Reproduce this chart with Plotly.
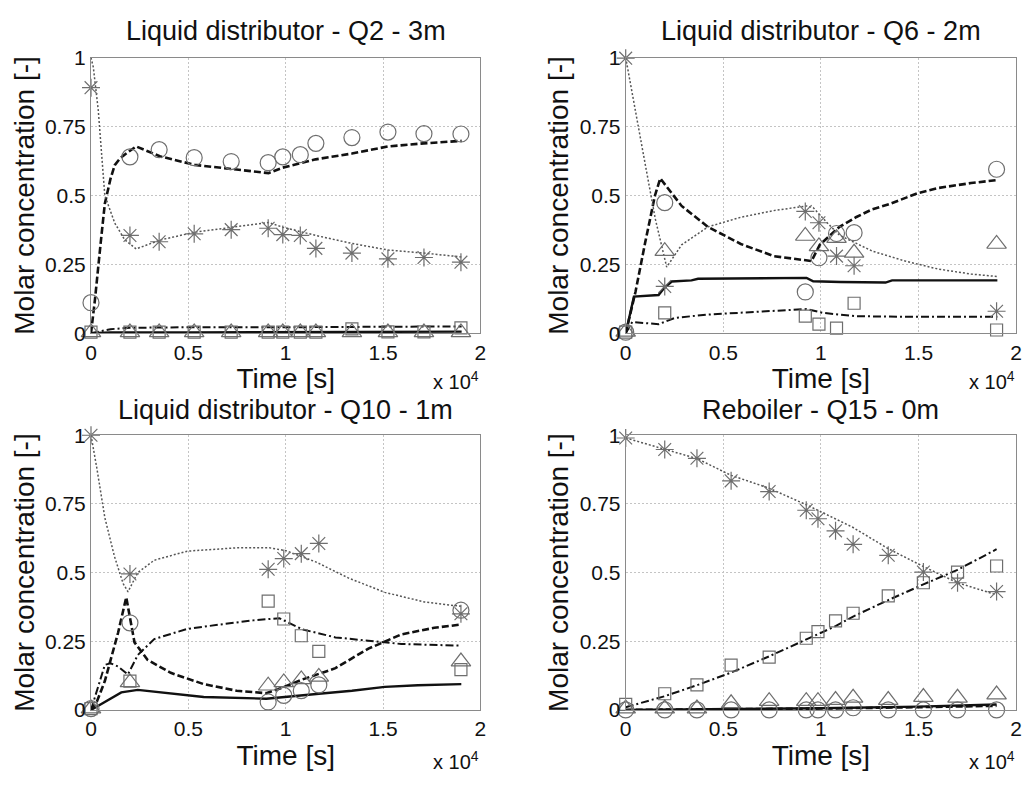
import plotly.graph_objects as go

# ---------------- data ----------------
# Panel Q2 - 3m (experimental points)
t_exp_q2 = [0, 2000, 3500, 5300, 7200, 9100, 9850, 10750, 11550, 13400, 15250, 17100, 19000]
q2_circle = [0.111, 0.64, 0.666, 0.637, 0.623, 0.619, 0.64, 0.648, 0.689, 0.71, 0.73, 0.724, 0.723]
q2_star = [0.891, 0.355, 0.332, 0.361, 0.376, 0.381, 0.358, 0.355, 0.308, 0.291, 0.27, 0.275, 0.258]
q2_tri = [0.003, 0.003, 0.003, 0.003, 0.003, 0.003, 0.003, 0.003, 0.003, 0.003, 0.003, 0.003, 0.003]
q2_square = [0.004, 0.004, 0.004, 0.004, 0.004, 0.004, 0.004, 0.004, 0.004, 0.016, 0.005, 0.005, 0.02]
# Panel Q2 - model curves
q2_dash_t = [0, 200, 500, 710, 1000, 1220, 1500, 1726, 2318, 3536, 5330, 7242, 9120, 9848, 11540, 13401, 15262, 17090, 19036]
q2_dash_v = [0, 0.12, 0.33, 0.47, 0.56, 0.61, 0.635, 0.648, 0.678, 0.642, 0.611, 0.596, 0.581, 0.601, 0.631, 0.652, 0.678, 0.689, 0.698]
q2_dot_t = [0, 120, 372, 710, 1220, 1726, 2318, 3536, 5330, 7242, 9120, 9848, 11540, 13401, 15262, 17090, 19036]
q2_dot_v = [1.0, 0.965, 0.81, 0.5, 0.4, 0.34, 0.306, 0.338, 0.367, 0.385, 0.402, 0.385, 0.355, 0.326, 0.302, 0.291, 0.277]
q2_solid_t = [0, 1000, 5000, 10000, 15000, 19036]
q2_solid_v = [0, 0.003, 0.003, 0.004, 0.005, 0.006]
q2_dashdot_t = [0, 1000, 2000, 5000, 10000, 15000, 19036]
q2_dashdot_v = [0, 0.015, 0.02, 0.022, 0.022, 0.024, 0.025]

# Panel Q6 - 2m
t_exp_q6 = [0, 2000, 9200, 9900, 10800, 11700, 19000]
q6_circle = [0.004, 0.474, 0.15, 0.274, 0.362, 0.365, 0.595]
q6_star = [0.998, 0.17, 0.442, 0.401, 0.28, 0.245, 0.08]
q6_tri = [0.005, 0.298, 0.353, 0.315, 0.345, 0.292, 0.324]
q6_square = [0.004, 0.074, 0.062, 0.033, 0.019, 0.109, 0.012]
q6_dash_t = [0, 500, 1000, 1500, 1770, 2864, 4212, 5054, 5897, 7582, 9267, 9520, 9941, 10952, 11794, 12637, 13479, 14995, 16006, 17691, 19040]
q6_dash_v = [0, 0.15, 0.33, 0.5, 0.562, 0.462, 0.386, 0.356, 0.324, 0.28, 0.265, 0.262, 0.321, 0.386, 0.421, 0.45, 0.468, 0.509, 0.527, 0.545, 0.556]
q6_dot_t = [0, 400, 842, 1516, 2100, 2864, 4212, 5897, 7582, 9267, 9604, 10278, 10952, 11794, 12637, 14322, 16006, 17691, 19040]
q6_dot_v = [1.0, 0.85, 0.674, 0.415, 0.24, 0.321, 0.386, 0.421, 0.445, 0.462, 0.456, 0.404, 0.356, 0.327, 0.298, 0.262, 0.233, 0.215, 0.206]
q6_solid_t = [0, 421, 1685, 1938, 2359, 3370, 3706, 9267, 9604, 11000, 13310, 13647, 19040]
q6_solid_v = [0, 0.133, 0.139, 0.162, 0.188, 0.192, 0.198, 0.201, 0.189, 0.186, 0.184, 0.192, 0.192]
q6_dashdot_t = [0, 337, 1685, 2527, 4212, 5897, 9267, 10109, 11794, 14322, 19040]
q6_dashdot_v = [0.0, 0.041, 0.033, 0.056, 0.068, 0.074, 0.088, 0.074, 0.062, 0.06, 0.06]

# Panel Q10 - 1m
t_exp_q10 = [0, 2000, 9100, 9900, 10800, 11700, 19000]
q10_circle = [0.005, 0.317, 0.029, 0.053, 0.07, 0.091, 0.363]
q10_star = [1.0, 0.495, 0.512, 0.551, 0.569, 0.606, 0.35]
q10_tri = [0.005, 0.1, 0.088, 0.1, 0.111, 0.12, 0.176]
q10_square = [0.005, 0.105, 0.396, 0.331, 0.27, 0.213, 0.147]
q10_dash_t = [0, 300, 711, 1387, 1810, 2234, 2910, 4095, 5787, 7479, 9002, 9848, 10863, 12555, 13401, 14247, 15939, 17631, 19019]
q10_dash_v = [0, 0.03, 0.105, 0.28, 0.41, 0.246, 0.182, 0.135, 0.094, 0.07, 0.061, 0.082, 0.111, 0.152, 0.188, 0.223, 0.275, 0.299, 0.311]
q10_dot_t = [0, 300, 711, 1200, 1650, 1900, 2403, 3249, 4940, 7479, 9170, 10000, 11540, 13232, 15093, 17124, 19019]
q10_dot_v = [1.0, 0.88, 0.7, 0.56, 0.46, 0.43, 0.5, 0.545, 0.578, 0.59, 0.59, 0.58, 0.539, 0.48, 0.428, 0.393, 0.377]
q10_solid_t = [0, 711, 1557, 2403, 4095, 5787, 9002, 10017, 11709, 13401, 15093, 16785, 19019]
q10_solid_v = [0, 0.029, 0.064, 0.073, 0.059, 0.047, 0.041, 0.047, 0.059, 0.07, 0.084, 0.09, 0.094]
q10_dashdot_t = [0, 300, 711, 1000, 1387, 1895, 2403, 3249, 4940, 6632, 8323, 9678, 10863, 12555, 14247, 15939, 19019]
q10_dashdot_v = [0, 0.07, 0.164, 0.17, 0.158, 0.129, 0.2, 0.258, 0.295, 0.311, 0.326, 0.334, 0.293, 0.264, 0.252, 0.24, 0.234]

# Panel Q15 - 0m (reboiler)
t_exp_q15 = [0, 2000, 3650, 5400, 7350, 9250, 9850, 10750, 11650, 13450, 15250, 17000, 19000]
q15_circle = [0.0, 0.0, 0.0, 0.0, 0.0, 0.0, 0.0, 0.0, 0.008, 0.0, 0.0, 0.0, 0.0]
q15_star = [0.99, 0.948, 0.916, 0.834, 0.795, 0.727, 0.696, 0.652, 0.603, 0.563, 0.502, 0.463, 0.431]
q15_tri = [0.005, 0.005, 0.005, 0.024, 0.032, 0.032, 0.032, 0.036, 0.044, 0.036, 0.047, 0.044, 0.056]
q15_square = [0.02, 0.059, 0.091, 0.163, 0.192, 0.261, 0.285, 0.324, 0.352, 0.415, 0.463, 0.502, 0.524]
q15_dot_t = [0, 2000, 3650, 5400, 7350, 9250, 10750, 11650, 13450, 15250, 17000, 19000]
q15_dot_v = [0.99, 0.95, 0.915, 0.854, 0.807, 0.747, 0.694, 0.664, 0.587, 0.522, 0.463, 0.419]
q15_dashdot_t = [0, 2000, 3650, 5400, 7350, 9250, 10750, 11650, 13450, 15250, 17000, 19000]
q15_dashdot_v = [0.01, 0.05, 0.09, 0.136, 0.195, 0.255, 0.305, 0.34, 0.4, 0.457, 0.51, 0.585]
q15_solid_t = [0, 5000, 10000, 15000, 19000]
q15_solid_v = [0, 0.003, 0.006, 0.012, 0.02]
q15_dash_t = [0, 5000, 10000, 15000, 19000]
q15_dash_v = [0, 0.002, 0.005, 0.01, 0.015]

titles = ["Liquid distributor - Q2 - 3m", "Liquid distributor - Q6 - 2m",
          "Liquid distributor - Q10 - 1m", "Reboiler - Q15 - 0m"]
x_tickvals = [0, 5000, 10000, 15000, 20000]
x_ticktext = ["0", "0.5", "1", "1.5", "2"]
y_tickvals = [0, 0.25, 0.5, 0.75, 1]
y_ticktext = ["0", "0.25", "0.5", "0.75", "1"]

panels = [
    dict(t=t_exp_q2, circ=q2_circle, star=q2_star, tri=q2_tri, sq=q2_square,
         lines=[(q2_dash_t, q2_dash_v, "dash"), (q2_dot_t, q2_dot_v, "dot"),
                (q2_solid_t, q2_solid_v, "solid"), (q2_dashdot_t, q2_dashdot_v, "dashdot")]),
    dict(t=t_exp_q6, circ=q6_circle, star=q6_star, tri=q6_tri, sq=q6_square,
         lines=[(q6_dash_t, q6_dash_v, "dash"), (q6_dot_t, q6_dot_v, "dot"),
                (q6_solid_t, q6_solid_v, "solid"), (q6_dashdot_t, q6_dashdot_v, "dashdot")]),
    dict(t=t_exp_q10, circ=q10_circle, star=q10_star, tri=q10_tri, sq=q10_square,
         lines=[(q10_dash_t, q10_dash_v, "dash"), (q10_dot_t, q10_dot_v, "dot"),
                (q10_solid_t, q10_solid_v, "solid"), (q10_dashdot_t, q10_dashdot_v, "dashdot")]),
    dict(t=t_exp_q15, circ=q15_circle, star=q15_star, tri=q15_tri, sq=q15_square,
         lines=[(q15_dash_t, q15_dash_v, "dash"), (q15_dot_t, q15_dot_v, "dot"),
                (q15_solid_t, q15_solid_v, "solid"), (q15_dashdot_t, q15_dashdot_v, "dashdot")]),
]

# ---------------- layout geometry ----------------
W, H = 1031, 785
def px_x(p):
    return p / W
def px_y(p):
    return 1 - p / H

x_domains = [(px_x(86), px_x(480)), (px_x(627), px_x(1022))]
y_domains = [(px_y(331), px_y(47)), (px_y(719), px_y(436))]
title_y_px = [20, 410]
exp_y_px = [380, 771]

FONT = "Liberation Sans, Arial, sans-serif"
MCOL = "#6e6e6e"

fig = go.Figure()
line_styles = {"dash": (2.6, "#111111", "7px,3px"),
               "dot": (1.5, "#555555", "2px,2px"),
               "solid": (2.4, "#111111", "solid"),
               "dashdot": (2.0, "#111111", "8px,3px,2px,3px")}

for i, p in enumerate(panels):
    r, c = divmod(i, 2)
    xa = "x" if i == 0 else f"x{i+1}"
    ya = "y" if i == 0 else f"y{i+1}"
    for (tt, vv, kind) in p["lines"]:
        w, col, dsh = line_styles[kind]
        fig.add_trace(go.Scatter(x=tt, y=vv, mode="lines", xaxis=xa, yaxis=ya,
                                 line=dict(color=col, width=w, dash=dsh),
                                 showlegend=False, hoverinfo="skip"))
    for key, sym, sz in [("circ", "circle-open", 16), ("star", "asterisk-open", 15),
                         ("tri", "triangle-up-open", 17), ("sq", "square-open", 12)]:
        fig.add_trace(go.Scatter(x=p["t"], y=p[key], mode="markers", xaxis=xa, yaxis=ya,
                                 marker=dict(symbol=sym, size=sz, color=MCOL,
                                             line=dict(color=MCOL, width=1.2)),
                                 cliponaxis=False, showlegend=False))
    axis_common = dict(showline=True, linecolor="#8a8a8a", linewidth=1, mirror=True,
                       showgrid=True, gridcolor="#c4c4c4", griddash="2px,2px", gridwidth=1,
                       zeroline=False, ticks="", tickfont=dict(family=FONT, size=21, color="#111"))
    fig.layout[("xaxis" if i == 0 else f"xaxis{i+1}")] = dict(
        axis_common, domain=x_domains[c], anchor=ya, range=[0, 20000],
        tickvals=x_tickvals, ticktext=x_ticktext,
        title=dict(text="Time [s]", font=dict(family=FONT, size=28, color="#111"), standoff=2))
    fig.layout[("yaxis" if i == 0 else f"yaxis{i+1}")] = dict(
        axis_common, domain=y_domains[r], anchor=xa, range=[0, 1],
        tickvals=y_tickvals, ticktext=y_ticktext,
        title=dict(text="Molar concentration [-]", font=dict(family=FONT, size=28, color="#111"), standoff=2))
    xc = (x_domains[c][0] + x_domains[c][1]) / 2
    fig.add_annotation(text=titles[i], x=xc, y=px_y(title_y_px[r]), xref="paper", yref="paper",
                       xanchor="center", yanchor="middle", showarrow=False,
                       font=dict(family=FONT, size=27, color="#111"))
    fig.add_annotation(text="x 10<sup>4</sup>", x=x_domains[c][1] + 1 / W, y=px_y(exp_y_px[r]),
                       xref="paper", yref="paper", xanchor="right", yanchor="middle",
                       showarrow=False, font=dict(family=FONT, size=20, color="#111"))

fig.update_layout(width=W, height=H, margin=dict(l=0, r=0, t=0, b=0),
                  paper_bgcolor="white", plot_bgcolor="white", showlegend=False)

fig.write_html("out.html")
